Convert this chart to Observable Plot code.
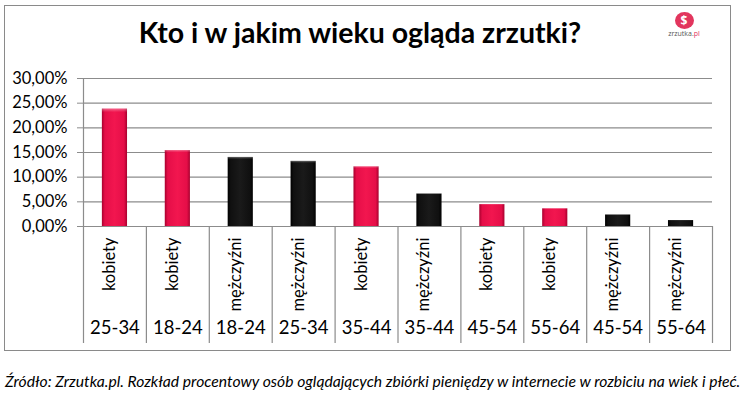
<!DOCTYPE html>
<html>
<head>
<meta charset="utf-8">
<script src="https://cdn.jsdelivr.net/npm/d3@7"></script>
<script src="https://cdn.jsdelivr.net/npm/@observablehq/plot@0.6"></script>
<style>
  body { margin: 0; background: #fff; }
  #wrap { position: relative; width: 747px; height: 398px; background: #fff; overflow: hidden; font-family: Lato, "Open Sans", sans-serif; }
  #frame { position: absolute; left: 4px; top: 5px; width: 727px; height: 346px; border: 1.5px solid #8a8a8a; box-sizing: border-box; }
  #title { position: absolute; left: 0; width: 720px; top: 15px; text-align: center; font-weight: 700; font-size: 28.5px; color: #000; }
  #caption { position: absolute; left: 5px; top: 372px; font-style: italic; font-size: 15.7px; color: #000; white-space: nowrap; }
  #logo { position: absolute; left: 668px; top: 9px; width: 32px; text-align: center; }
  #logo .pig { display: inline-block; width: 19px; height: 17px; border-radius: 50%; background: #e2355d; color: #fff; font: 700 12px/17px "Open Sans", sans-serif; }
  #logo .name { display: block; font: 7px/8px "Open Sans", sans-serif; color: #555; margin-top: 1px; }
  #chart { position: absolute; left: 0; top: 0; }
</style>
</head>
<body>
<div id="wrap">
  <div id="frame"></div>
  <div id="title">Kto i w jakim wieku ogląda zrzutki?</div>
  <div id="logo"><span class="pig">$</span><span class="name">zrzutka.<span style="color:#e2355d">pl</span></span></div>
  <div id="chart"></div>
  <div id="caption">Źródło: Zrzutka.pl. Rozkład procentowy osób oglądających zbiórki pieniędzy w internecie w rozbiciu na wiek i płeć.</div>
</div>
<script>
const genders = ["kobiety","kobiety","mężczyźni","mężczyźni","kobiety","mężczyźni","kobiety","kobiety","mężczyźni","mężczyźni"];
const ages = ["25-34","18-24","18-24","25-34","35-44","35-44","45-54","55-64","45-54","55-64"];
const values = [23.8, 15.4, 14.0, 13.2, 12.1, 6.6, 4.45, 3.6, 2.35, 1.2];
const yTicks = [0, 5, 10, 15, 20, 25, 30];

const data = genders.map((g, i) => ({i, gender: g, age: ages[i], value: values[i]}));
const boundaries = genders.map((_, i) => i + 1);
const fmt = d => d.toFixed(2).replace(".", ",") + "%";
const fillFor = d => d.gender === "kobiety" ? "url(#gradRed)" : "url(#gradBlack)";

const plot = Plot.plot({
  width: 747,
  height: 398,
  marginTop: 78,
  marginBottom: 172,
  marginLeft: 83,
  marginRight: 35,
  style: {fontFamily: "Lato, 'Open Sans', sans-serif", color: "#000", background: "transparent"},
  x: {domain: [0, genders.length], axis: null},
  y: {domain: [0, 30], axis: null, label: null},
  marks: [
    Plot.gridY(yTicks, {stroke: "#8c8c8c", strokeOpacity: 1, strokeWidth: 1.2}),
    Plot.ruleX([0], {stroke: "#8c8c8c", strokeWidth: 1.2, insetBottom: -117}),
    Plot.ruleX(boundaries, {stroke: "#8c8c8c", strokeWidth: 1.2, insetTop: 148, insetBottom: -117}),
    Plot.rectY(data, {x1: d => d.i + 0.3, x2: d => d.i + 0.7, y: "value", fill: fillFor}),
    Plot.rectY(data, {x1: d => d.i + 0.3, x2: d => d.i + 0.7, y: "value", fill: "url(#gradTop)"}),
    Plot.axisY(yTicks, {tickFormat: fmt, tickSize: 6, tickPadding: 10, fontSize: 16.5, stroke: "#8c8c8c", fill: "#000", label: null}),
    Plot.text(data, {x: d => d.i + 0.5, text: "gender", frameAnchor: "bottom", rotate: -90, textAnchor: "end", dy: 11, fontSize: 16.5, fill: "#000"}),
    Plot.text(data, {x: d => d.i + 0.5, text: "age", frameAnchor: "bottom", dy: 107, fontSize: 18.5, fill: "#000"})
  ]
});

const ns = "http://www.w3.org/2000/svg";
const defs = document.createElementNS(ns, "defs");
defs.innerHTML = `
  <linearGradient id="gradRed" x1="0" x2="1" y1="0" y2="0">
    <stop offset="0" stop-color="#a8002e"/>
    <stop offset="0.12" stop-color="#e50e48"/>
    <stop offset="0.5" stop-color="#f2164f"/>
    <stop offset="0.88" stop-color="#e50e48"/>
    <stop offset="1" stop-color="#a8002e"/>
  </linearGradient>
  <linearGradient id="gradBlack" x1="0" x2="1" y1="0" y2="0">
    <stop offset="0" stop-color="#000"/>
    <stop offset="0.12" stop-color="#101010"/>
    <stop offset="0.5" stop-color="#1a1a1a"/>
    <stop offset="0.88" stop-color="#101010"/>
    <stop offset="1" stop-color="#000"/>
  </linearGradient>
  <linearGradient id="gradTop" x1="0" x2="0" y1="0" y2="1">
    <stop offset="0" stop-color="#fff" stop-opacity="0.35"/>
    <stop offset="0.03" stop-color="#fff" stop-opacity="0"/>
    <stop offset="1" stop-color="#fff" stop-opacity="0"/>
  </linearGradient>`;
plot.insertBefore(defs, plot.firstChild);
document.getElementById("chart").appendChild(plot);
</script>
</body>
</html>
